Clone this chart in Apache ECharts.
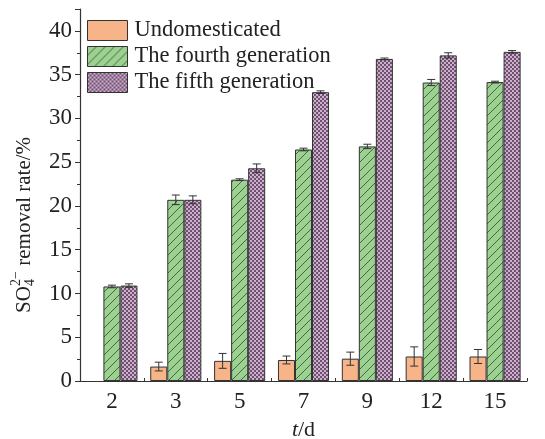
<!DOCTYPE html>
<html>
<head>
<meta charset="utf-8">
<script src="https://cdn.jsdelivr.net/npm/echarts@6/dist/echarts.min.js"></script>
<style>
html,body{margin:0;padding:0;background:#fff;}
#main{width:545px;height:439px;}
</style>
</head>
<body>
<div id="main"></div>
<script>
// ---- data ----
const categories = ['2', '3', '5', '7', '9', '12', '15'];
const seriesNames = ['Undomesticated', 'The fourth generation', 'The fifth generation'];
const undomesticated = [null, 1.65, 2.3, 2.4, 2.55, 2.8, 2.8];
const undomesticatedErr = [null, 0.5, 0.85, 0.45, 0.75, 1.1, 0.8];
const fourthGen = [10.8, 20.7, 23.0, 26.45, 26.8, 34.1, 34.15];
const fourthGenErr = [0.15, 0.55, 0.1, 0.15, 0.25, 0.35, 0.1];
const fifthGen = [10.9, 20.7, 24.3, 33.0, 36.8, 37.2, 37.6];
const fifthGenErr = [0.2, 0.45, 0.5, 0.15, 0.1, 0.3, 0.15];
const yTicks = { min: 0, max: 42.5, interval: 5 };

// ---- patterns ----
function makeHatch() {
  const s = 9;
  const c = document.createElement('canvas');
  c.width = s; c.height = s;
  const g = c.getContext('2d');
  g.fillStyle = '#9dd192';
  g.fillRect(0, 0, s, s);
  g.strokeStyle = '#3e6a3c';
  g.lineWidth = 1;
  g.beginPath();
  g.moveTo(-1, s + 1); g.lineTo(s + 1, -1);
  g.moveTo(-1 - s, s + 1); g.lineTo(1, -1);
  g.moveTo(s - 1, 2 * s + 1); g.lineTo(2 * s + 1, s - 1);
  g.stroke();
  return c;
}
function makeChecker() {
  const c = document.createElement('canvas');
  c.width = 4; c.height = 4;
  const g = c.getContext('2d');
  g.fillStyle = '#cdb0cc';
  g.fillRect(0, 0, 4, 4);
  g.fillStyle = '#6f4f70';
  g.fillRect(0, 0, 2, 2);
  g.fillRect(2, 2, 2, 2);
  return c;
}
const fills = [
  '#f7b488',
  { image: makeHatch(), repeat: 'repeat' },
  { image: makeChecker(), repeat: 'repeat' }
];

const chart = echarts.init(document.getElementById('main'), null, { renderer: 'canvas' });
const FONT = 'Liberation Serif';
const values = [undomesticated, fourthGen, fifthGen];
const errs = [undomesticatedErr, fourthGenErr, fifthGenErr];

const barSeries = seriesNames.map((n, k) => ({
  name: n,
  type: 'bar',
  barGap: '0%',
  barCategoryGap: '20%',
  data: values[k],
  itemStyle: { color: fills[k], borderColor: '#333', borderWidth: 1 },
  z: 2
}));

const errSeries = seriesNames.map((n, k) => ({
  name: n + ' err',
  type: 'custom',
  z: 5,
  data: values[k].map((v, i) => v == null ? null : [i, v, errs[k][i]]).filter(d => d),
  encode: { x: 0, y: 1 },
  renderItem: function (params, api) {
    const i = api.value(0), v = api.value(1), e = api.value(2);
    const band = api.size([1, 0])[0];
    const bw = band * 0.8 / 3;
    const cx = api.coord([i, v])[0] + (k - 1) * bw;
    const yt = api.coord([i, v + e])[1];
    const yb = api.coord([i, v - e])[1];
    const hw = 4;
    const st = { stroke: '#333', lineWidth: 1 };
    return {
      type: 'group',
      children: [
        { type: 'line', shape: { x1: cx, y1: yt, x2: cx, y2: yb }, style: st },
        { type: 'line', shape: { x1: cx - hw, y1: yt, x2: cx + hw, y2: yt }, style: st },
        { type: 'line', shape: { x1: cx - hw, y1: yb, x2: cx + hw, y2: yb }, style: st }
      ]
    };
  }
}));

const option = {
  animation: false,
  backgroundColor: '#fff',
  grid: { left: 80, right: 18, top: 9, bottom: 58, containLabel: false, outerBoundsMode: 'none' },
  legend: {
    data: seriesNames.map(n => ({ name: n, icon: 'rect' })),
    orient: 'vertical',
    left: 82,
    top: 14,
    itemWidth: 40,
    itemHeight: 20,
    itemGap: 3,
    textStyle: { fontFamily: FONT, fontSize: 22.5, color: '#222', padding: [0, 0, 0, 2] },
    itemStyle: { borderColor: '#333', borderWidth: 1 }
  },
  xAxis: {
    type: 'category',
    data: categories,
    name: '{i|t}/d',
    nameLocation: 'middle',
    nameGap: 38,
    nameTextStyle: {
      fontFamily: FONT, fontSize: 22, color: '#222',
      rich: { i: { fontFamily: FONT, fontSize: 22, fontStyle: 'italic', color: '#222' } }
    },
    axisLine: { lineStyle: { color: '#333', width: 1.2 } },
    axisTick: { show: true, inside: true, length: 3, alignWithLabel: false, lineStyle: { color: '#333' } },
    axisLabel: { fontFamily: FONT, fontSize: 23, color: '#222', margin: 9 }
  },
  yAxis: {
    type: 'value',
    min: yTicks.min,
    max: yTicks.max,
    interval: yTicks.interval,
    axisLine: { show: true, lineStyle: { color: '#333', width: 1.2 } },
    axisTick: { show: true, inside: false, length: 5, lineStyle: { color: '#333' } },
    minorTick: { show: true, splitNumber: 2, length: 3, lineStyle: { color: '#333' } },
    splitLine: { show: false },
    axisLabel: { fontFamily: FONT, fontSize: 23, color: '#222', margin: 8, showMaxLabel: false }
  },
  graphic: [{
    type: 'group',
    x: 24, y: 225,
    rotation: Math.PI / 2,
    children: [
      { type: 'text', x: -88, y: 0, style: { text: 'SO', font: '21px "Liberation Serif"', fill: '#222', textAlign: 'left', textVerticalAlign: 'middle' } },
      { type: 'text', x: -61, y: -8, style: { text: '2\u2212', font: '14px "Liberation Serif"', fill: '#222', textAlign: 'left', textVerticalAlign: 'middle' } },
      { type: 'text', x: -61, y: 6.5, style: { text: '4', font: '14px "Liberation Serif"', fill: '#222', textAlign: 'left', textVerticalAlign: 'middle' } },
      { type: 'text', x: -46, y: 0, style: { text: ' removal rate/%', font: '21px "Liberation Serif"', fill: '#222', textAlign: 'left', textVerticalAlign: 'middle' } }
    ]
  }],
  series: barSeries.concat(errSeries)
};
chart.setOption(option);
</script>
</body>
</html>
